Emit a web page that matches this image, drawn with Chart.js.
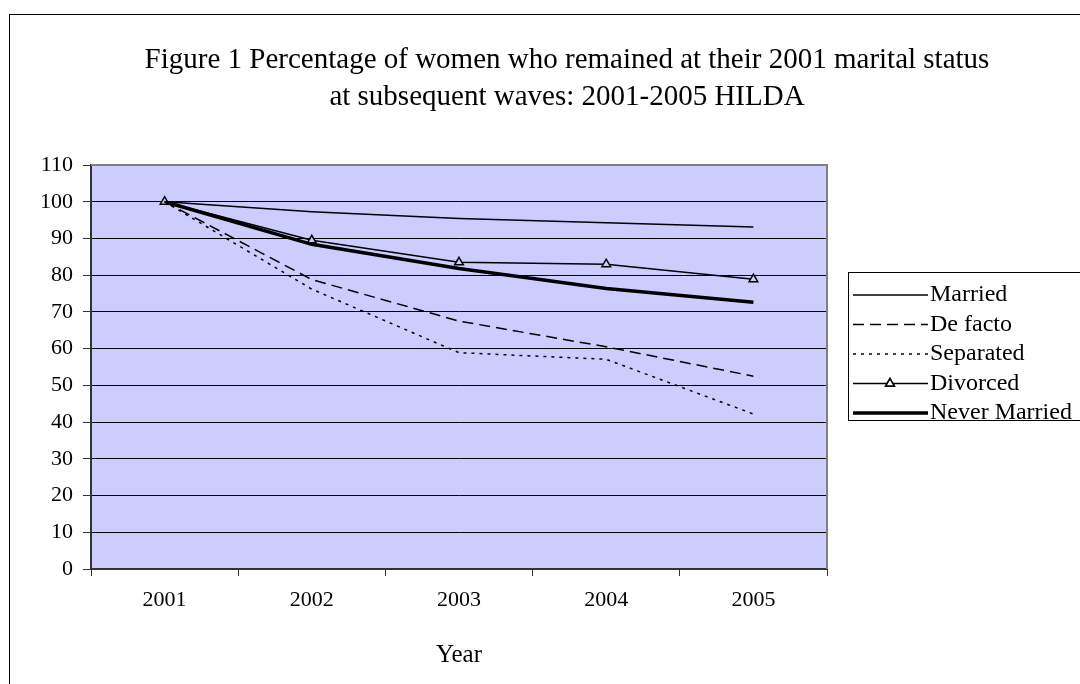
<!DOCTYPE html>
<html>
<head>
<meta charset="utf-8">
<style>
  html, body { margin: 0; padding: 0; background: #fff; }
  #wrap { width: 1080px; height: 684px; }
</style>
<script src="https://cdn.jsdelivr.net/npm/chart.js@4"></script>
</head>
<body>
<div id="wrap"><canvas id="statusChart" width="1080" height="684"></canvas></div>
<script>
const years = ['2001', '2002', '2003', '2004', '2005'];
const married = [100, 97.3, 95.4, 94.3, 93.1];
const deFacto = [100, 78.8, 67.5, 60.5, 52.5];
const separated = [100, 76.2, 58.9, 57.1, 42.2];
const divorced = [100, 89.5, 83.5, 83.0, 78.9];
const neverMarried = [100, 88.4, 81.8, 76.4, 72.6];

const titleLines = [
    'Figure 1 Percentage of women who remained at their 2001 marital status',
    'at subsequent waves: 2001-2005 HILDA'
];

Chart.defaults.font.family = '"Liberation Serif", "Times New Roman", serif';
Chart.defaults.color = '#000';

// outer frame, plot background and plot border
const framePlugin = {
    id: 'frame',
    beforeDraw(chart) {
        const ctx = chart.ctx;
        const a = chart.chartArea;
        ctx.save();
        ctx.strokeStyle = '#000';
        ctx.lineWidth = 1;
        ctx.strokeRect(9.5, 14.5, 1200, 800);
        ctx.fillStyle = '#ccccff';
        ctx.fillRect(a.left, a.top, a.right - a.left, a.bottom - a.top);
        ctx.restore();
    },
    afterDatasetsDraw(chart) {
        const ctx = chart.ctx;
        const a = chart.chartArea;
        ctx.save();
        ctx.strokeStyle = '#808080';
        ctx.lineWidth = 2;
        ctx.beginPath();
        ctx.moveTo(a.left, a.top);
        ctx.lineTo(a.right, a.top);
        ctx.lineTo(a.right, a.bottom);
        ctx.stroke();
        ctx.restore();
    }
};

// two-line title centred over the page
const titlePlugin = {
    id: 'bigTitle',
    afterDraw(chart) {
        const ctx = chart.ctx;
        ctx.save();
        ctx.fillStyle = '#000';
        ctx.font = '29px "Liberation Serif"';
        ctx.textAlign = 'center';
        ctx.textBaseline = 'middle';
        ctx.fillText(titleLines[0], 567, 60);
        ctx.fillText(titleLines[1], 567, 97);
        ctx.restore();
    }
};

// boxed legend with line samples
const legendPlugin = {
    id: 'boxLegend',
    afterDraw(chart) {
        const ctx = chart.ctx;
        const x0 = 848, y0 = 272;
        ctx.save();
        ctx.strokeStyle = '#000';
        ctx.lineWidth = 1;
        ctx.strokeRect(x0 + 0.5, y0 + 0.5, 300, 148);
        chart.data.datasets.forEach((ds, i) => {
            const y = y0 + 23 + i * 29.5;
            ctx.strokeStyle = ds.borderColor;
            ctx.lineWidth = ds.borderWidth;
            ctx.setLineDash(ds.borderDash || []);
            ctx.beginPath();
            ctx.moveTo(x0 + 5, y);
            ctx.lineTo(x0 + 80, y);
            ctx.stroke();
            ctx.setLineDash([]);
            if (ds.pointRadius > 0) {
                Chart.helpers.drawPoint(ctx, {
                    pointStyle: ds.pointStyle,
                    radius: ds.pointRadius,
                    borderWidth: ds.pointBorderWidth
                }, x0 + 42, y);
                ctx.fillStyle = '#fff';
                ctx.fill();
                ctx.stroke();
            }
            ctx.fillStyle = '#000';
            ctx.font = '24px "Liberation Serif"';
            ctx.textAlign = 'left';
            ctx.textBaseline = 'middle';
            ctx.fillText(ds.label, x0 + 82, y);
        });
        ctx.restore();
    }
};

const data = {
    labels: years,
    datasets: [{
        label: 'Married',
        data: married,
        borderColor: '#000',
        borderWidth: 1.5,
        pointRadius: 0
    }, {
        label: 'De facto',
        data: deFacto,
        borderColor: '#000',
        borderWidth: 1.5,
        borderDash: [11, 6],
        pointRadius: 0
    }, {
        label: 'Separated',
        data: separated,
        borderColor: '#000',
        borderWidth: 1.5,
        borderDash: [3, 5],
        pointRadius: 0
    }, {
        label: 'Divorced',
        data: divorced,
        borderColor: '#000',
        borderWidth: 1.5,
        pointStyle: 'triangle',
        pointRadius: 5,
        pointBorderWidth: 1.5,
        pointBorderColor: '#000',
        pointBackgroundColor: '#ccccff'
    }, {
        label: 'Never Married',
        data: neverMarried,
        borderColor: '#000',
        borderWidth: 3.5,
        pointRadius: 0
    }]
};

const config = {
    type: 'line',
    data: data,
    plugins: [framePlugin, titlePlugin, legendPlugin],
    options: {
        responsive: false,
        animation: false,
        layout: {
            padding: { left: 0, top: 165, right: 253, bottom: 0 }
        },
        plugins: {
            legend: { display: false },
            title: { display: false },
            tooltip: { enabled: false }
        },
        scales: {
            x: {
                offset: true,
                grid: {
                    offset: true,
                    drawOnChartArea: false,
                    drawTicks: true,
                    tickLength: 7,
                    tickColor: '#333'
                },
                border: { color: '#333', width: 2 },
                ticks: { font: { size: 22 }, padding: 11, maxRotation: 0 },
                title: {
                    display: true,
                    text: 'Year',
                    font: { size: 25 },
                    padding: { top: 0, bottom: 14 }
                },
                afterFit(scale) { scale.height = 115; }
            },
            y: {
                min: 0,
                max: 110,
                ticks: { stepSize: 10, font: { size: 22 }, padding: 10 },
                grid: {
                    color: '#000',
                    lineWidth: 1,
                    tickLength: 8,
                    tickColor: '#333'
                },
                border: { color: '#333', width: 2 },
                afterFit(scale) { scale.width = 91; }
            }
        }
    }
};

var statusChart = new Chart(
    document.getElementById('statusChart'),
    config
);
</script>
</body>
</html>
